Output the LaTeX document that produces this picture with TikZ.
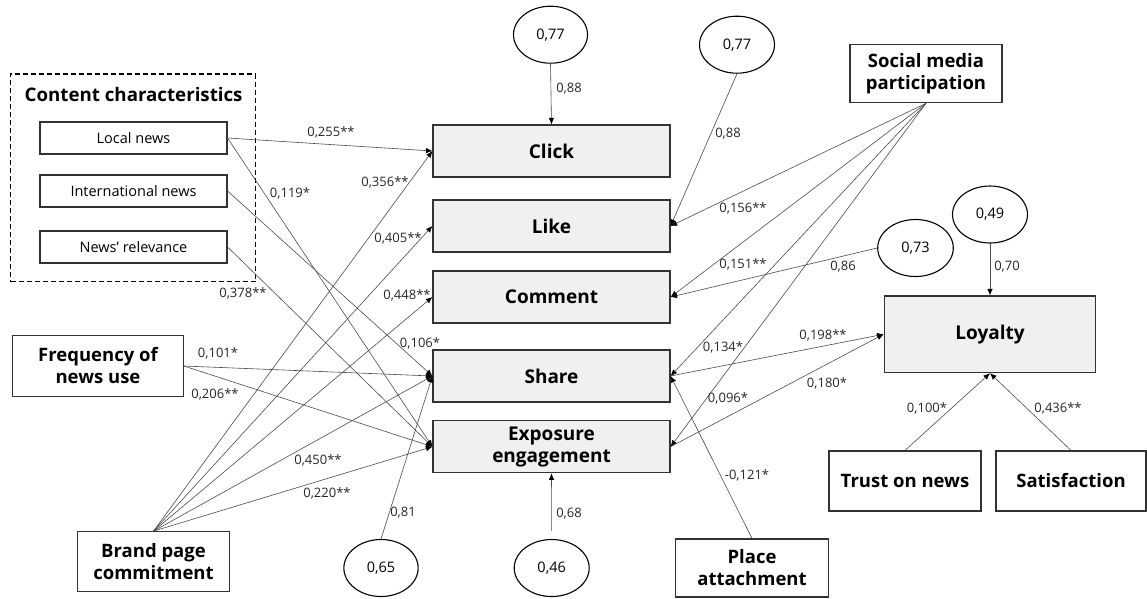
\documentclass[tikz,border=0pt]{standalone}
\usepackage{fontspec}
\setmainfont{Open Sans}
\usetikzlibrary{arrows.meta,shapes.geometric}
\definecolor{boxline}{HTML}{333333}
\definecolor{mainfill}{HTML}{F0F0F0}
\definecolor{linegray}{HTML}{4A4A4A}
\begin{document}
\begin{tikzpicture}[x=1pt,y=-1pt,
 mainbox/.style={draw=boxline,fill=mainfill,line width=1.2pt,minimum width=237pt,minimum height=52pt,inner sep=0pt,align=center,font=\bfseries\fontsize{19}{22}\selectfont},
 varbox/.style={draw=boxline,fill=white,line width=1.2pt,inner sep=0pt,align=center,font=\bfseries\fontsize{18.5}{22}\selectfont},
 itembox/.style={draw=boxline,fill=white,line width=1.1pt,minimum width=187pt,minimum height=32pt,inner sep=0pt,font=\fontsize{14.5}{17}\selectfont},
 err/.style={ellipse,draw=black,line width=1.1pt,fill=white,inner sep=0pt,minimum width=75pt,minimum height=57pt,font=\fontsize{14.5}{17}\selectfont},
 conn/.style={draw=linegray,line width=0.6pt,-{Latex[length=6.5pt,width=5.5pt,fill=black,color=black]}},
 lbl/.style={inner sep=0pt,font=\fontsize{13}{15}\selectfont,text=black!85},
]
\useasboundingbox (0,0) rectangle (1147,598);

% content characteristics group
\node[draw=black,line width=1.2pt,dash pattern=on 5pt off 3pt,minimum width=245pt,minimum height=207.7pt,inner sep=0pt] (cc) at (133.2,177.9) {};
\node[inner sep=0pt,font=\bfseries\fontsize{18.7}{22}\selectfont] (cctitle) at (133.6,94) {Content characteristics};
\node[itembox] (local) at (133.5,138) {Local news};
\node[itembox] (intl) at (133.5,191) {International news};
\node[itembox] (relev) at (133.5,247) {News’ relevance};

% exogenous variables
\node[varbox,minimum width=170.6pt,minimum height=61.7pt] (freq) at (98,366) {Frequency of\\news use};
\node[varbox,minimum width=151.6pt,minimum height=60pt] (brand) at (153.5,561.7) {Brand page\\commitment};
\node[varbox,minimum width=152pt,minimum height=58.4pt] (social) at (926,73.5) {Social media\\participation};
\node[varbox,minimum width=152.6pt,minimum height=58pt] (place) at (752,568) {Place\\attachment};
\node[varbox,minimum width=152pt,minimum height=60pt] (trust) at (905,481) {Trust on news};
\node[varbox,minimum width=150pt,minimum height=60pt] (satisf) at (1071,481) {Satisfaction};

% engagement boxes
\node[mainbox] (click) at (551.5,151) {Click};
\node[mainbox] (like) at (551.5,226) {Like};
\node[mainbox] (comment) at (551.5,297) {Comment};
\node[mainbox] (share) at (551.5,376) {Share};
\node[mainbox] (expo) at (551.5,446.7) {Exposure\\engagement};
\node[mainbox,minimum width=211.7pt,minimum height=76.7pt] (loyalty) at (990,334.3) {Loyalty};

% error terms
\node[err,minimum width=74pt] (e1) at (550.5,34.7) {0,77};
\node[err] (e2) at (737,44.7) {0,77};
\node[err,minimum width=75.6pt] (e3) at (915.5,248) {0,73};
\node[err] (e4) at (990,214.5) {0,49};
\node[err,minimum width=74.3pt] (e5) at (381,568) {0,65};
\node[err] (e6) at (551.7,568) {0,46};

% connectors: error terms
\draw[conn] (e1.south) -- (click.north);
\draw[conn] (e2.south) -- (like.east);
\draw[conn] (e3.west) -- (comment.east);
\draw[conn] (e4.south) -- (loyalty.north);
\draw[conn] (e5.north) -- (share.west);
\draw[conn,shorten <=8pt] (e6.north) -- (expo.south);

% content characteristics
\draw[conn] (local.east) -- (click.west);
\draw[conn] (local.east) -- (expo.west);
\draw[conn] (intl.east) -- (share.west);
\draw[conn] (relev.east) -- (expo.west);

% frequency
\draw[conn] (freq.east) -- (share.west);
\draw[conn] (freq.east) -- (expo.west);

% brand page commitment
\draw[conn] (brand.north) -- (click.west);
\draw[conn] (brand.north) -- (like.west);
\draw[conn] (brand.north) -- (comment.west);
\draw[conn] (brand.north) -- (share.west);
\draw[conn] (brand.north) -- (expo.west);

% social media participation
\draw[conn] (social.south) -- (like.east);
\draw[conn] (social.south) -- (comment.east);
\draw[conn] (social.south) -- (share.east);
\draw[conn] (social.south) -- (expo.east);

% place attachment
\draw[conn] (place.north) -- (share.east);

% loyalty
\draw[conn] (share.east) -- (loyalty.west);
\draw[conn] (expo.east) -- (loyalty.west);
\draw[conn] (trust.north) -- (loyalty.south);
\draw[conn] (satisf.north) -- (loyalty.south);

% labels
\node[lbl] (l1) at (569,89) {0,88};
\node[lbl] (l2) at (728,134) {0,88};
\node[lbl] (l3) at (843,267) {0,86};
\node[lbl] (l4) at (1007,267) {0,70};
\node[lbl] (l5) at (403,513) {0,81};
\node[lbl] (l6) at (569,514) {0,68};
\node[lbl] (l7) at (331,132) {0,255**};
\node[lbl] (l8) at (290,193) {0,119*};
\node[lbl] (l9) at (420,343) {0,106*};
\node[lbl] (l10) at (243,293) {0,378**};
\node[lbl] (l11) at (218,353) {0,101*};
\node[lbl] (l12) at (215,394) {0,206**};
\node[lbl] (l13) at (385,182) {0,356**};
\node[lbl] (l14) at (398,238) {0,405**};
\node[lbl] (l15) at (407,295) {0,448**};
\node[lbl] (l16) at (318,460) {0,450**};
\node[lbl] (l17) at (327,493) {0,220**};
\node[lbl] (l18) at (743,208) {0,156**};
\node[lbl] (l19) at (743,264) {0,151**};
\node[lbl] (l20) at (723,347) {0,134*};
\node[lbl] (l21) at (728,398) {0,096*};
\node[lbl] (l22) at (747,475) {-0,121*};
\node[lbl] (l23) at (823,335) {0,198**};
\node[lbl] (l24) at (827,383) {0,180*};
\node[lbl] (l25) at (927,408) {0,100*};
\node[lbl] (l26) at (1058,408) {0,436**};
\end{tikzpicture}
\end{document}
